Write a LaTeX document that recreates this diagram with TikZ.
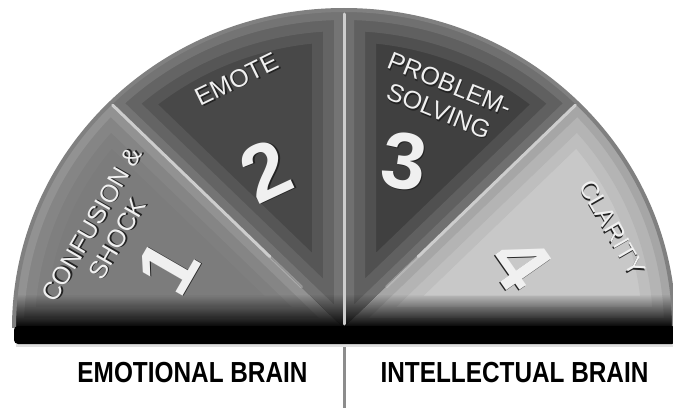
\documentclass[tikz,border=0pt]{standalone}
\usepackage{fontspec}
\setmainfont{Liberation Sans}
\usetikzlibrary{fadings}
\definecolor{rimgray}{RGB}{128,128,128}
\definecolor{divgray}{RGB}{205,205,205}
\definecolor{labelwhite}{RGB}{240,240,240}
\definecolor{shadowgray}{RGB}{35,35,35}
\definecolor{stemgray}{RGB}{140,140,140}
% embossed text: dark copy below, light copy on top
\newcommand{\embtext}[1]{\makebox[0pt][l]{\kern1.3pt\raisebox{-1.3pt}{\color{shadowgray}#1}}{\color{labelwhite}#1}}
\tikzset{
  sectext/.style ={font=\fontsize{25}{29}\selectfont, align=center, inner sep=0pt},
  numtext/.style ={font=\fontsize{80}{80}\selectfont\bfseries, inner sep=0pt},
  brain/.style   ={font=\fontsize{29}{30}\selectfont\bfseries, xscale=0.84, inner sep=0pt},
  divider/.style ={draw=divgray, line width=3pt, line cap=round},
}
\begin{document}
\begin{tikzpicture}[x=1pt,y=1pt]
\useasboundingbox (0,0) rectangle (673,408);
\coordinate (c) at (344,80);

% Sectors with inset bands (start/end angle, core, inner, mid, outer band)
\foreach \s/\e/\core/\bA/\bB/\bC in {
    135/180/124/127/133/146,
    90/135/72/86/100/116,
    45/90/64/80/96/112,
    0/45/200/190/180/166}{
  \begin{scope}
    \clip (c) -- ++(\s:330 and 318) arc[start angle=\s, end angle=\e, x radius=330, y radius=318] -- cycle;
    \fill[color={rgb,255:red,\core;green,\core;blue,\core}]
      (c) -- ++(\s:330 and 318) arc[start angle=\s, end angle=\e, x radius=330, y radius=318] -- cycle;
    \draw[line width=64, line join=round, color={rgb,255:red,\bA;green,\bA;blue,\bA}]
      (c) -- ++(\s:330 and 318) arc[start angle=\s, end angle=\e, x radius=330, y radius=318] -- cycle;
    \draw[line width=42, line join=round, color={rgb,255:red,\bB;green,\bB;blue,\bB}]
      (c) -- ++(\s:330 and 318) arc[start angle=\s, end angle=\e, x radius=330, y radius=318] -- cycle;
    \draw[line width=20, line join=round, color={rgb,255:red,\bC;green,\bC;blue,\bC}]
      (c) -- ++(\s:330 and 318) arc[start angle=\s, end angle=\e, x radius=330, y radius=318] -- cycle;
  \end{scope}
}

% dark fade at the base of the half disc
\begin{scope}
  \clip (c) ++(0:330 and 318) arc[start angle=0, end angle=180, x radius=330, y radius=318] -- cycle;
  \fill[black, path fading=north] (10,80) rectangle (680,114);
\end{scope}

% rim
\draw[rimgray, line width=4] (c) ++(0:330 and 318) arc[start angle=0, end angle=180, x radius=330, y radius=318];

% dividers
\path (c) ++(90:330 and 314) coordinate (d2top);
\path (c) ++(135:327 and 315) coordinate (d1out) (c) ++(135:105 and 101) coordinate (d1in)
      (c) ++(135:60 and 58) coordinate (d1end);
\path (c) ++(45:327 and 315) coordinate (d3out) (c) ++(45:105 and 101) coordinate (d3in)
      (c) ++(45:60 and 58) coordinate (d3end);
\draw[divider] (d2top) -- (344,84);
\draw[divider] (d1out) -- (d1in);
\draw[divider, opacity=0.4] (d1in) -- (d1end);
\draw[divider] (d3out) -- (d3in);
\draw[divider, opacity=0.4] (d3in) -- (d3end);

% base bar
\fill[black!12] (16,61) rectangle (673,64);
\fill[black, rounded corners=4] (14,64) rectangle (676,82);

% sector labels
\node[sectext, rotate=60] (confusion) at (105,176) {\embtext{CONFUSION \&}\\\embtext{SHOCK}};
\node[sectext, rotate=26] (emote) at (237,328) {\embtext{EMOTE}};
\node[sectext, rotate=-22] (problem) at (444,310) {\embtext{PROBLEM-}\\\embtext{SOLVING}};
\node[sectext, rotate=-60] (clarity) at (612,180) {\embtext{CLARITY}};

\node[numtext, rotate=60] (one) at (168,140) {\embtext{1}};
\node[numtext, rotate=25] (two) at (266,237) {\embtext{2}};
\node[numtext, rotate=-8] (three) at (404,246) {\embtext{3}};
\node[numtext, rotate=-55] (four) at (520,145) {\embtext{4}};

% bottom captions
\coordinate (stemtop) at (344,61);
\coordinate (stembot) at (344,0);
\draw[stemgray, line width=3] (stemtop) -- (stembot);
\node[brain] (emobrain) at (192.5,35.5) {EMOTIONAL BRAIN};
\node[brain] (intbrain) at (514.5,35.5) {INTELLECTUAL BRAIN};
\end{tikzpicture}
\end{document}
